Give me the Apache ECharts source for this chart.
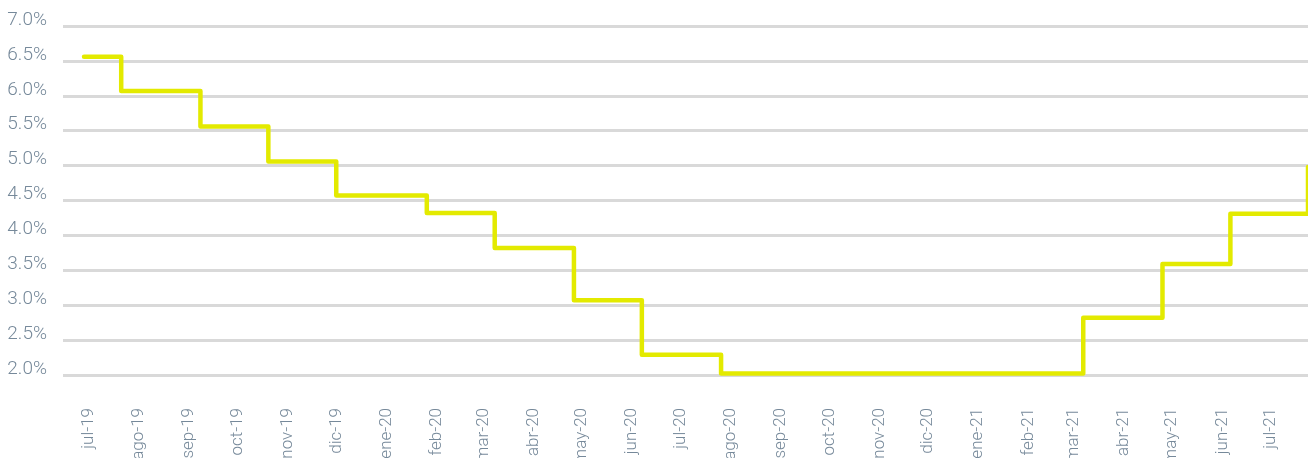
<!DOCTYPE html>
<html><head><meta charset="utf-8">
<script src="https://cdn.jsdelivr.net/npm/echarts@6/dist/echarts.min.js"></script>
<style>html,body{margin:0;padding:0;background:#fff}#c{width:1308px;height:458px}</style>
</head><body><div id="c"></div>
<script>
// Rate level changes (date the new level starts, value in %)
const changeDates = ['2019-07-09','2019-08-01','2019-09-19','2019-10-31','2019-12-12','2020-02-06','2020-03-19','2020-05-07','2020-06-18','2020-08-06','2021-03-18','2021-05-06','2021-06-17','2021-08-04'];
const rateValues = [6.56, 6.07, 5.56, 5.06, 4.57, 4.32, 3.82, 3.07, 2.29, 2.02, 2.82, 3.59, 4.31, 4.98];
// X-axis tick labels and their dates
const tickDates = ['2019-07-12','2019-08-12','2019-09-12','2019-10-12','2019-11-12','2019-12-12','2020-01-12','2020-02-12','2020-03-12','2020-04-12','2020-05-12','2020-06-12','2020-07-12','2020-08-12','2020-09-12','2020-10-12','2020-11-12','2020-12-12','2021-01-12','2021-02-12','2021-03-12','2021-04-12','2021-05-12','2021-06-12','2021-07-12'];
const tickLabels = ['jul-19','ago-19','sep-19','oct-19','nov-19','dic-19','ene-20','feb-20','mar-20','abr-20','may-20','jun-20','jul-20','ago-20','sep-20','oct-20','nov-20','dic-20','ene-21','feb-21','mar-21','abr-21','may-21','jun-21','jul-21'];
const axisStart = '2019-06-26';
const axisEnd = '2021-08-04';

// day number (UTC) for a date string
function dayNum(s){ const p = s.split('-').map(Number); return Date.UTC(p[0], p[1]-1, p[2]) / 86400000; }
const tickDays = tickDates.map(dayNum);
const seriesData = changeDates.map((d, i) => [dayNum(d), rateValues[i]]);

const font = "Roboto, 'Noto Sans', sans-serif";
const labelColor = '#76899a';
const chart = echarts.init(document.getElementById('c'), null, {renderer: 'canvas'});
chart.setOption({
  animation: false,
  backgroundColor: '#ffffff',
  grid: {left: 63, right: 0, top: 26, bottom: 83, containLabel: false, outerBoundsMode: 'none'},
  xAxis: {
    type: 'value',
    min: dayNum(axisStart),
    max: dayNum(axisEnd),
    axisLine: {show: false},
    axisTick: {show: false},
    splitLine: {show: false},
    axisLabel: {
      customValues: tickDays,
      rotate: 90,
      margin: 33,
      color: labelColor,
      fontFamily: font,
      fontWeight: 300,
      fontSize: 17,
      hideOverlap: false,
      showMinLabel: true,
      showMaxLabel: true,
      formatter: function(v){ const i = tickDays.indexOf(v); return i >= 0 ? tickLabels[i] : ''; }
    }
  },
  yAxis: {
    type: 'value',
    min: 2, max: 7, interval: 0.5,
    axisLine: {show: false},
    axisTick: {show: false},
    splitLine: {show: true, lineStyle: {color: '#d9d9d9', width: 3}},
    axisLabel: {
      color: labelColor,
      fontFamily: font,
      fontWeight: 300,
      fontSize: 19,
      margin: 16,
      verticalAlign: 'bottom',
      lineHeight: 12,
      formatter: function(v){ return v.toFixed(1) + '%'; }
    }
  },
  series: [{
    type: 'line',
    step: 'end',
    data: seriesData,
    showSymbol: false,
    symbol: 'none',
    lineStyle: {color: '#e3ea00', width: 4.5, cap: 'round', join: 'round'},
    clip: true
  }]
});
</script>
</body></html>
